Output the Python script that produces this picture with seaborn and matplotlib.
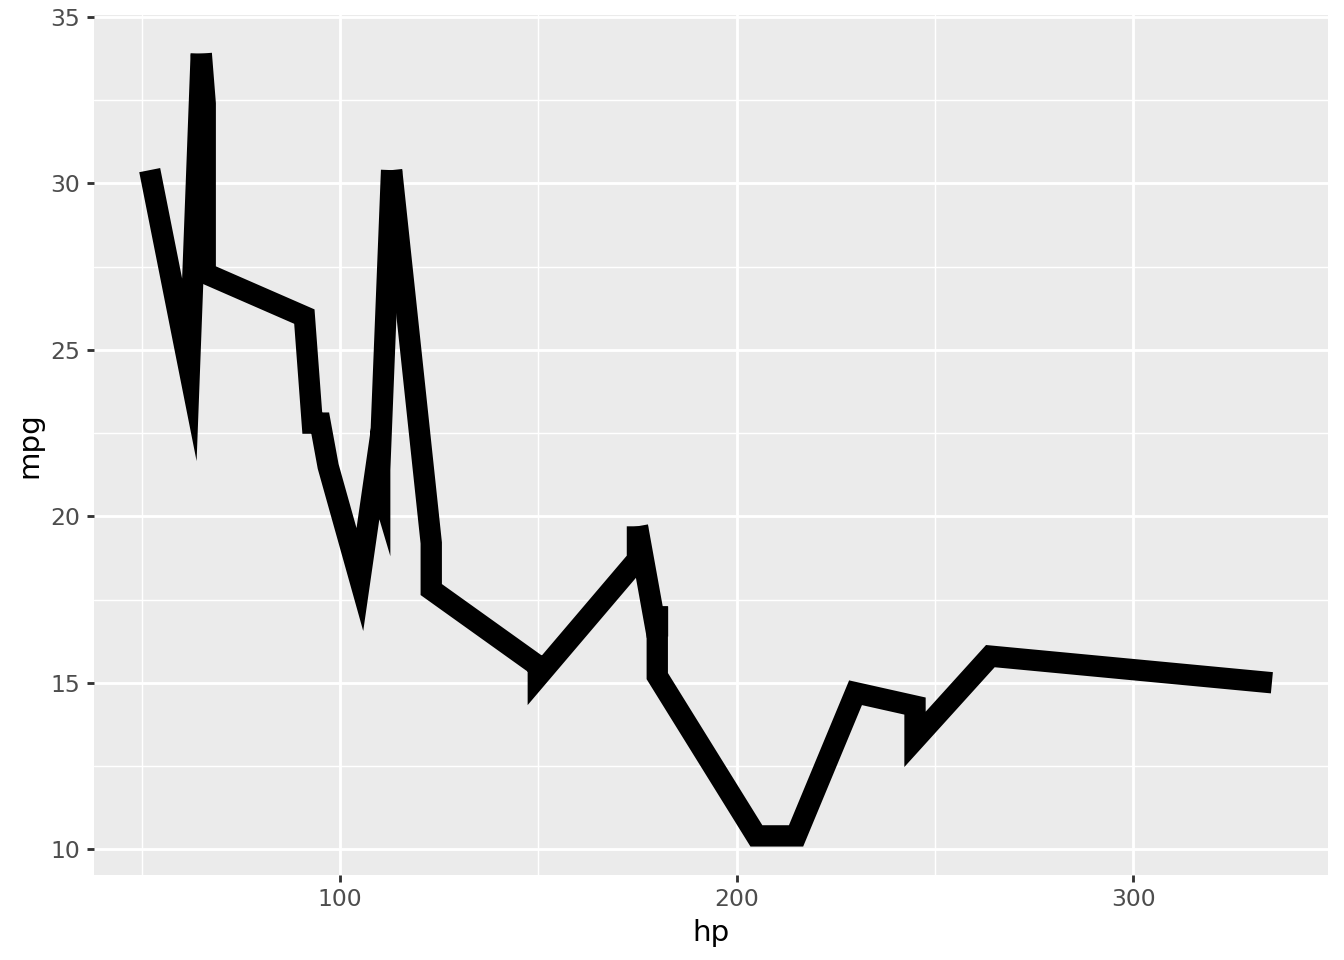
import pandas as pd
import numpy as np
import matplotlib
matplotlib.use('Agg')
import matplotlib.pyplot as plt
import seaborn as sns

# mtcars hp / mpg, in the data's original row order
hp = [110, 110, 93, 110, 175, 105, 245, 62, 95, 123, 123, 180, 180, 180, 205, 215,
      230, 66, 52, 65, 97, 150, 150, 245, 175, 66, 91, 113, 264, 175, 335, 109]
mpg = [21.0, 21.0, 22.8, 21.4, 18.7, 18.1, 14.3, 24.4, 22.8, 19.2, 17.8, 16.4, 17.3, 15.2, 10.4, 10.4,
       14.7, 32.4, 30.4, 33.9, 21.5, 15.5, 15.2, 13.3, 19.2, 27.3, 26.0, 30.4, 15.8, 19.7, 15.0, 21.4]
x_ticks = [100, 200, 300]
y_ticks = [10, 15, 20, 25, 30, 35]

data = pd.DataFrame({'hp': hp, 'mpg': mpg})
# geom_line orders by x, ties kept in data order
data = data.sort_values('hp', kind='mergesort').reset_index(drop=True)

sns.set_style('darkgrid', {'axes.facecolor': '#EBEBEB', 'grid.color': 'white'})
fig, ax = plt.subplots(figsize=(7, 5), dpi=192)
fig.subplots_adjust(left=93.6/1344, right=1328/1344, top=1-14.5/960, bottom=1-875/960)

xr = max(hp) - min(hp)
ax.set_xlim(min(hp) - 0.05 * xr, max(hp) + 0.05 * xr)
yr = max(mpg) - min(mpg)
ax.set_ylim(min(mpg) - 0.05 * yr, max(mpg) + 0.05 * yr)

# R falls back to a bevel when the mitre gets too long (limit 10);
# matplotlib has no mitre limit, so split the path at those sharp turns
pix = ax.transData.transform(data[['hp', 'mpg']].to_numpy())
keep = [0]
for i in range(1, len(pix)):
    if np.hypot(*(pix[i] - pix[keep[-1]])) > 1e-6:
        keep.append(i)
breaks = []
for k in range(1, len(keep) - 1):
    v = pix[keep[k]]
    a = pix[keep[k - 1]] - v
    b = pix[keep[k + 1]] - v
    cosang = np.dot(a, b) / (np.linalg.norm(a) * np.linalg.norm(b))
    ang = np.degrees(np.arccos(np.clip(cosang, -1, 1)))
    if 1 / np.sin(np.radians(ang) / 2) > 10:
        breaks.append(keep[k])

starts = [0] + breaks
ends = breaks + [len(data) - 1]
for s, e in zip(starts, ends):
    piece = data.iloc[s:e + 1]
    sns.lineplot(data=piece, x='hp', y='mpg', sort=False, estimator=None, color='black',
                 linewidth=8, ax=ax, solid_joinstyle='miter', solid_capstyle='butt')

ax.set_xticks(x_ticks)
ax.set_yticks(y_ticks)
ax.set_xticks([50, 150, 250], minor=True)
ax.set_yticks([12.5, 17.5, 22.5, 27.5, 32.5], minor=True)
ax.grid(which='major', color='white', linewidth=1.07)
ax.grid(which='minor', color='white', linewidth=0.53)
for s in ax.spines.values():
    s.set_visible(False)
ax.tick_params(which='major', length=2.75, width=1.07, color='#333333', labelcolor='#4D4D4D',
               labelsize=8.8, pad=2.2)
ax.tick_params(which='minor', length=0)
ax.tick_params(axis='x', bottom=True)
ax.tick_params(axis='y', left=True)
ax.set_xlabel('hp', fontsize=11, color='black', labelpad=2.75)
ax.set_ylabel('mpg', fontsize=11, color='black', labelpad=2.75)

fig.savefig('out.png', dpi=192)
